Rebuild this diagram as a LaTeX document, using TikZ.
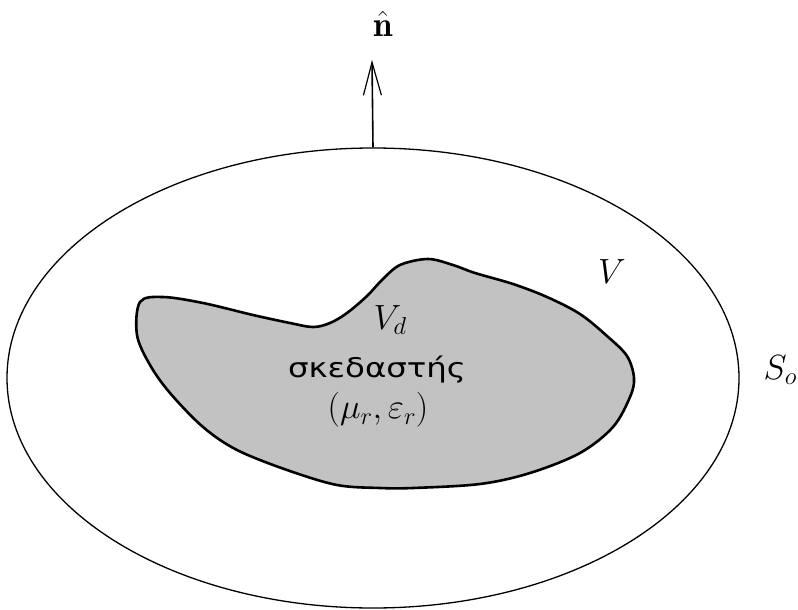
\RequirePackage{fix-cm}
\documentclass[tikz,border=0pt]{standalone}
\usepackage{amsmath}
\usepackage{fontspec}
\newfontfamily\greekfont{DejaVu Sans}
\usetikzlibrary{shapes.geometric,arrows.meta}
\tikzset{
  outer/.style={draw, ellipse, line width=1.3pt, minimum width=732pt, minimum height=460pt, inner sep=0pt},
  blob/.style={draw, line width=2.6pt, fill=black!24},
  lbl/.style={inner sep=0pt, font=\fontsize{35}{40}\selectfont},
  gr/.style={inner sep=0pt, font=\fontsize{27}{32}\selectfont},
  normal/.style={line width=1.6pt, -{Straight Barb[length=33pt,width=18pt,line width=1.2pt]}}
}
\begin{document}
\begin{tikzpicture}[x=1pt,y=-1pt]
\useasboundingbox (0,0) rectangle (798,610);
\node[outer] (So) at (373,378) {};
\draw[blob] plot[smooth cycle, tension=0.55] coordinates {
 (140,302) (163,297) (203,303) (253,315) (290,323) (313,327) (330,323) (347,313)
 (367,296) (382,280) (400,265) (428,259) (453,265) (475,273) (513,284) (547,297)
 (580,314) (607,336) (627,356) (634,378) (630,397) (613,427) (580,453) (530,473)
 (480,484) (413,488) (380,488) (337,485) (287,470) (237,450) (203,427) (170,393)
 (150,365) (137,335)};
\coordinate (tip) at (372,60);
\draw[normal] (So.north) -- (tip);
\node[lbl] (nhat) at (383,24) {$\hat{\mathbf{n}}$};
\node[lbl] (Vd) at (390,320) {$V_d$};
\node[gr] (scat) at (377,370) {\scalebox{1.2}[1]{\greekfont σκεδαστής}};
\node[lbl] (mu) at (378,410) {$(\mu_r,\varepsilon_r)$};
\node[lbl] (V) at (612,272) {$V$};
\node[lbl, anchor=base east] (Solbl) at (797,379) {$S_o$};
\end{tikzpicture}
\end{document}
